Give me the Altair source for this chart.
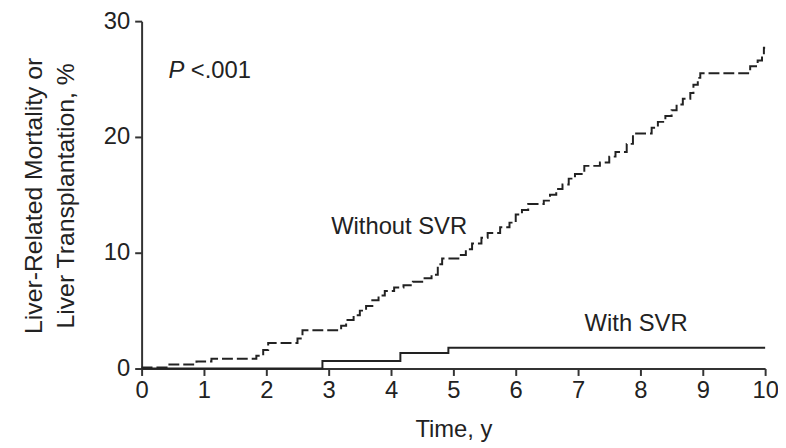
import altair as alt
import pandas as pd

# Without SVR (Kaplan-Meier style step curve)
without_t = [0, 0.4, 0.88, 1.12, 1.84, 1.95, 2.03, 2.5, 2.58, 3.2, 3.28, 3.4, 3.5, 3.6, 3.7,
             3.8, 3.9, 4.05, 4.2, 4.35, 4.5, 4.65, 4.75, 4.82, 5.12, 5.2, 5.3, 5.45, 5.55,
             5.75, 5.9, 6.0, 6.1, 6.2, 6.45, 6.55, 6.65, 6.75, 6.85, 6.95, 7.1, 7.35, 7.5,
             7.6, 7.78, 7.88, 8.18, 8.28, 8.4, 8.5, 8.58, 8.68, 8.8, 8.85, 8.92, 8.96,
             9.76, 9.88, 9.95, 9.98, 10.0]
without_v = [0.1, 0.35, 0.6, 0.85, 1.1, 1.6, 2.2, 2.6, 3.3, 3.7, 4.2, 4.6, 5.0, 5.4, 5.9,
             6.3, 6.7, 7.0, 7.2, 7.5, 7.8, 8.1, 9.0, 9.5, 9.8, 10.3, 10.8, 11.3, 11.7,
             12.2, 12.6, 13.3, 13.7, 14.2, 14.5, 15.0, 15.5, 15.9, 16.4, 16.8, 17.5, 17.8, 18.3,
             18.7, 19.4, 20.3, 20.8, 21.3, 21.8, 22.3, 22.8, 23.3, 23.8, 24.5, 25.1, 25.5,
             26.1, 26.6, 27.0, 27.7, 27.7]

# With SVR
with_t = [0, 2.9, 4.15, 4.92, 10.0]
with_v = [0, 0.65, 1.35, 1.8, 1.8]

x_ticks = [0, 1, 2, 3, 4, 5, 6, 7, 8, 9, 10]
y_ticks = [0, 10, 20, 30]

# annotations
ann_text = ["Without SVR", "With SVR"]
ann_x = [3.04, 7.93]
ann_y = [11.64, 3.23]
ann_align = ["left", "center"]

FONT = "Liberation Sans"
INK = "#222222"

df_wo = pd.DataFrame({"t": without_t, "v": without_v})
df_w = pd.DataFrame({"t": with_t, "v": with_v})

xscale = alt.Scale(domain=[0, 10], nice=False)
yscale = alt.Scale(domain=[0, 30], nice=False)

xaxis = alt.Axis(values=x_ticks, title="Time, y", grid=False, labelFlush=False,
                 labelOverlap=False, titleBaseline="alphabetic", titleY=69,
                 labelPadding=3, format="d")
yaxis = alt.Axis(values=y_ticks, grid=False, format="d",
                 title=["Liver-Related Mortality or", "Liver Transplantation, %"],
                 titleAngle=270, titleBaseline="middle", titleAlign="center",
                 titleX=-109, titleY=176, titleLineHeight=32, titleFontSize=25,
                 labelPadding=5)

line_wo = alt.Chart(df_wo).mark_line(
    interpolate="step-after", color=INK, strokeWidth=2, strokeDash=[11, 4]
).encode(
    x=alt.X("t:Q", scale=xscale, axis=xaxis),
    y=alt.Y("v:Q", scale=yscale, axis=yaxis),
)

line_w = alt.Chart(df_w).mark_line(
    interpolate="step-after", color=INK, strokeWidth=2
).encode(
    x=alt.X("t:Q", scale=xscale),
    y=alt.Y("v:Q", scale=yscale),
)

layers = [line_wo, line_w]
for txt, tx, ty, al in zip(ann_text, ann_x, ann_y, ann_align):
    d = pd.DataFrame({"t": [tx], "v": [ty], "label": [txt]})
    layers.append(
        alt.Chart(d).mark_text(align=al, baseline="alphabetic", fontSize=24,
                               font=FONT, color=INK).encode(
            x=alt.X("t:Q", scale=xscale), y=alt.Y("v:Q", scale=yscale), text="label:N")
    )

p_df = pd.DataFrame({"t": [0.43], "v": [25.1], "label": ["P"]})
p2_df = pd.DataFrame({"t": [0.79], "v": [25.1], "label": ["<.001"]})
layers.append(alt.Chart(p_df).mark_text(align="left", baseline="alphabetic", fontSize=24,
                                        font=FONT, fontStyle="italic", color=INK).encode(
    x=alt.X("t:Q", scale=xscale), y=alt.Y("v:Q", scale=yscale), text="label:N"))
layers.append(alt.Chart(p2_df).mark_text(align="left", baseline="alphabetic", fontSize=24,
                                         font=FONT, color=INK).encode(
    x=alt.X("t:Q", scale=xscale), y=alt.Y("v:Q", scale=yscale), text="label:N"))

chart = alt.layer(*layers).properties(
    width=630, height=351,
    autosize=alt.AutoSizeParams(type="none"),
    padding={"left": 135, "top": 11, "right": 13, "bottom": 76},
).configure_view(stroke=None).configure_axis(
    domainColor="#333333", domainWidth=2, tickColor="#333333", tickWidth=2, tickSize=7,
    labelFont=FONT, labelFontSize=24, labelColor=INK,
    titleFont=FONT, titleFontSize=24, titleColor=INK, titleFontWeight="normal",
)

chart.save("out.html", embed_options={"renderer": "svg", "actions": False})
